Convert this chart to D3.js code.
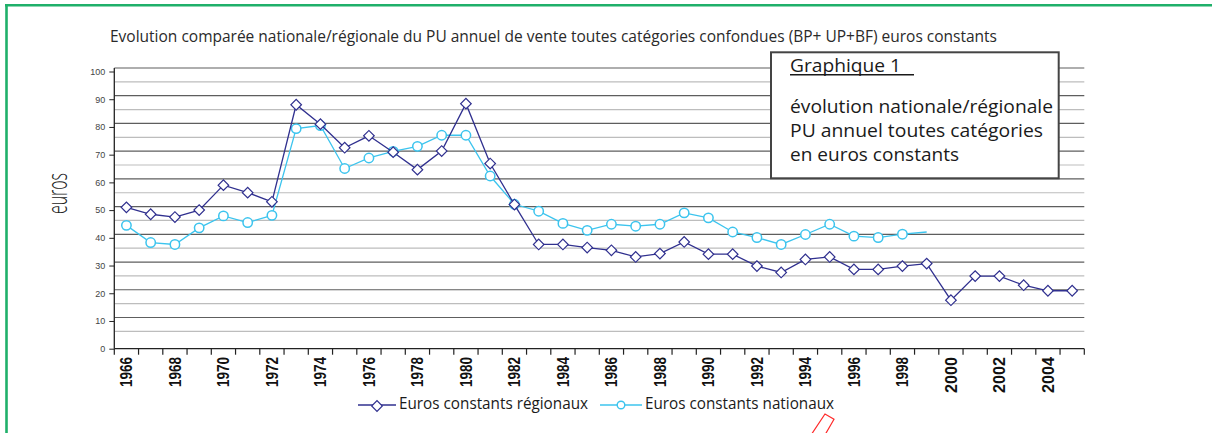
<!DOCTYPE html>
<html>
<head>
<meta charset="utf-8">
<script src="https://cdn.jsdelivr.net/npm/d3@7"></script>
<style>
  body { margin: 0; background: #fff; }
  svg { display: block; }
</style>
</head>
<body>
<div id="container"></div>
<script>
// data
const years = [1966, 1967, 1968, 1969, 1970, 1971, 1972, 1973, 1974, 1975,
  1976, 1977, 1978, 1979, 1980, 1981, 1982, 1983, 1984, 1985,
  1986, 1987, 1988, 1989, 1990, 1991, 1992, 1993, 1994, 1995,
  1996, 1997, 1998, 1999, 2000, 2001, 2002, 2003, 2004, 2005];
const regional = [51, 48.5, 47.5, 50, 59, 56.3, 53, 88, 81, 72.5,
  76.8, 70.9, 64.6, 71.3, 88.4, 66.8, 52, 37.6, 37.6, 36.5,
  35.5, 33.1, 34.3, 38.5, 34.1, 34.1, 29.8, 27.5, 32.2, 33.1,
  28.6, 28.6, 29.8, 30.7, 17.5, 26.2, 26.2, 22.9, 20.9, 20.9];
const national = [44.5, 38.3, 37.6, 43.6, 47.9, 45.5, 48.1, 79.4, 80.5, 65,
  68.8, 71.2, 73, 77, 77, 62.3, 52.1, 49.6, 45.2, 42.7,
  44.9, 44.2, 44.9, 49, 47.2, 42.1, 40.1, 37.6, 41.2, 44.9,
  40.6, 40.1, 41.3, 42.1, null, null, null, null, null, null];
const nationalNoMarker = [1999];
const xTickLabels = [1966, 1968, 1970, 1972, 1974, 1976, 1978, 1980, 1982, 1984,
  1986, 1988, 1990, 1992, 1994, 1996, 1998, 2000, 2002, 2004];
const yTicks = [0, 10, 20, 30, 40, 50, 60, 70, 80, 90, 100];
const yMinor = [5, 15, 25, 35, 45, 55, 65, 75, 85, 95];

const title = 'Evolution comparée nationale/régionale du PU annuel de vente toutes catégories confondues (BP+ UP+BF) euros constants';
const boxTitle = 'Graphique 1';
const boxLines = ['évolution nationale/régionale', 'PU annuel toutes catégories', 'en euros constants'];
const seriesNames = ['Euros constants régionaux', 'Euros constants nationaux'];

const colRegional = '#30308f';
const colNational = '#3cc4ee';
const font = '"Open Sans", "Noto Sans", sans-serif';

const width = 1212, height = 433;
const svg = d3.select('#container').append('svg')
  .attr('width', width)
  .attr('height', height);

// frame
svg.append('rect').attr('width', width).attr('height', height).attr('fill', '#fff');
svg.append('line')
  .attr('x1', 5).attr('x2', width).attr('y1', 5.3).attr('y2', 5.3)
  .attr('stroke', '#1fb06a').attr('stroke-width', 2.6);
svg.append('line')
  .attr('x1', 6.5).attr('x2', 6.5).attr('y1', 4).attr('y2', height)
  .attr('stroke', '#1fb06a').attr('stroke-width', 2.6);

const x = d3.scaleBand().domain(years).range([114.3, 1084.3]);
const y = d3.scaleLinear().domain([0, 100]).range([348.7, 71.5]);
const bw = x.bandwidth();
const cx = (d) => x(d) + bw / 2;
const gridShift = -3.5;

// title
svg.append('text')
  .attr('x', 110).attr('y', 42)
  .attr('font-family', font).attr('font-size', 17)
  .attr('fill', '#2a2a2a')
  .attr('textLength', 887).attr('lengthAdjust', 'spacingAndGlyphs')
  .text(title);

// grid
const grid = svg.append('g');
grid.selectAll('line.minor')
  .data(yMinor)
  .enter()
  .append('line')
  .attr('class', 'minor')
  .attr('x1', x.range()[0]).attr('x2', x.range()[1])
  .attr('y1', (d) => y(d) + gridShift).attr('y2', (d) => y(d) + gridShift)
  .attr('stroke', '#bdbdbd').attr('stroke-width', 1.2);
grid.selectAll('line.major')
  .data(yTicks.filter((d) => d > 0))
  .enter()
  .append('line')
  .attr('class', 'major')
  .attr('x1', x.range()[0]).attr('x2', x.range()[1])
  .attr('y1', (d) => y(d) + gridShift).attr('y2', (d) => y(d) + gridShift)
  .attr('stroke', '#5e5e5e').attr('stroke-width', 1.2);

// y axis
const yAxis = svg.append('g')
  .attr('transform', `translate(${x.range()[0]},0)`)
  .call(d3.axisLeft(y).tickValues(yTicks).tickSize(5).tickSizeOuter(0));
yAxis.select('.domain').remove();
yAxis.selectAll('.tick line').attr('stroke', '#222');
yAxis.selectAll('.tick text')
  .attr('x', -9)
  .attr('font-family', '"Liberation Sans", Arial, sans-serif')
  .attr('font-size', 9)
  .attr('fill', '#444');
svg.append('line')
  .attr('x1', x.range()[0]).attr('x2', x.range()[0])
  .attr('y1', y(100) + gridShift).attr('y2', y(0))
  .attr('stroke', '#222').attr('stroke-width', 1.3);

// x axis
svg.append('line')
  .attr('x1', x.range()[0]).attr('x2', x.range()[1])
  .attr('y1', y(0)).attr('y2', y(0))
  .attr('stroke', '#222').attr('stroke-width', 1.3);
svg.append('g').selectAll('line')
  .data(years.concat(['end']))
  .enter()
  .append('line')
  .attr('x1', (d) => d === 'end' ? x.range()[1] : x(d))
  .attr('x2', (d) => d === 'end' ? x.range()[1] : x(d))
  .attr('y1', y(0)).attr('y2', y(0) + 6)
  .attr('stroke', '#222').attr('stroke-width', 1.2);
svg.append('g').selectAll('text')
  .data(xTickLabels)
  .enter()
  .append('text')
  .attr('transform', (d) => `translate(${cx(d)},357) rotate(-90)`)
  .attr('dy', '0.35em')
  .attr('text-anchor', 'end')
  .attr('font-family', '"Liberation Sans", Arial, sans-serif')
  .attr('font-weight', 'bold')
  .attr('font-size', 17)
  .attr('fill', '#111')
  .attr('textLength', (d) => d >= 2000 ? 36 : 30)
  .attr('lengthAdjust', 'spacingAndGlyphs')
  .text((d) => d);

// y label
svg.append('text')
  .attr('transform', 'translate(67,193.5) rotate(-90)')
  .attr('text-anchor', 'middle')
  .attr('font-family', font)
  .attr('font-weight', 300)
  .attr('font-size', 27)
  .attr('fill', '#222')
  .attr('textLength', 41).attr('lengthAdjust', 'spacingAndGlyphs')
  .text('euros');

// series
const diamond = d3.symbol().type(d3.symbolSquare).size(56);
const lineGen = d3.line()
  .defined((d) => d.v !== null)
  .x((d) => cx(d.year))
  .y((d) => y(d.v));

const regData = years.map((yr, i) => ({ year: yr, v: regional[i] }));
const natData = years.map((yr, i) => ({ year: yr, v: national[i] }));

svg.append('path')
  .datum(natData)
  .attr('d', lineGen)
  .attr('fill', 'none')
  .attr('stroke', colNational)
  .attr('stroke-width', 1.3);
svg.append('g').selectAll('circle')
  .data(natData.filter((d) => d.v !== null && !nationalNoMarker.includes(d.year)))
  .enter()
  .append('circle')
  .attr('cx', (d) => cx(d.year))
  .attr('cy', (d) => y(d.v))
  .attr('r', 4.7)
  .attr('fill', '#fff')
  .attr('stroke', colNational)
  .attr('stroke-width', 1.5);

svg.append('path')
  .datum(regData)
  .attr('d', lineGen)
  .attr('fill', 'none')
  .attr('stroke', colRegional)
  .attr('stroke-width', 1.3);
svg.append('g').selectAll('path')
  .data(regData)
  .enter()
  .append('path')
  .attr('d', diamond)
  .attr('transform', (d) => `translate(${cx(d.year)},${y(d.v)}) rotate(45)`)
  .attr('fill', '#fff')
  .attr('stroke', colRegional)
  .attr('stroke-width', 1.2);

// legend
const legend = svg.append('g');
const legendItems = [
  { name: seriesNames[0], x0: 358, x1: 396, tx: 399, tl: 189, color: colRegional, shape: 'diamond' },
  { name: seriesNames[1], x0: 600, x1: 642, tx: 645, tl: 189, color: colNational, shape: 'circle' }
];
legendItems.forEach((it) => {
  legend.append('line')
    .attr('x1', it.x0).attr('x2', it.x1).attr('y1', 405).attr('y2', 405)
    .attr('stroke', it.color).attr('stroke-width', 1.3);
  const mx = (it.x0 + it.x1) / 2;
  if (it.shape === 'diamond') {
    legend.append('path')
      .attr('d', diamond)
      .attr('transform', `translate(${mx},406) rotate(45)`)
      .attr('fill', '#fff').attr('stroke', it.color).attr('stroke-width', 1.2);
  } else {
    legend.append('circle')
      .attr('cx', mx).attr('cy', 405).attr('r', 3.8)
      .attr('fill', '#fff').attr('stroke', it.color).attr('stroke-width', 1.4);
  }
  legend.append('text')
    .attr('x', it.tx).attr('y', 409)
    .attr('font-family', font).attr('font-size', 16)
    .attr('fill', '#1a1a1a')
    .attr('textLength', it.tl).attr('lengthAdjust', 'spacingAndGlyphs')
    .text(it.name);
});

// annotation box
const box = svg.append('g');
box.append('rect')
  .attr('x', 771).attr('y', 52.3).attr('width', 287.7).attr('height', 126)
  .attr('fill', '#fff').attr('stroke', '#444').attr('stroke-width', 2);
box.append('text')
  .attr('x', 790).attr('y', 71.5)
  .attr('font-family', font).attr('font-size', 18.5)
  .attr('fill', '#1a1a1a')
  .attr('textLength', 111).attr('lengthAdjust', 'spacingAndGlyphs')
  .text(boxTitle);
box.append('line')
  .attr('x1', 790).attr('x2', 914).attr('y1', 74.8).attr('y2', 74.8)
  .attr('stroke', '#1a1a1a').attr('stroke-width', 1.5);
const boxWidths = [263, 253, 169];
box.selectAll('text.line')
  .data(boxLines)
  .enter()
  .append('text')
  .attr('class', 'line')
  .attr('x', 790)
  .attr('y', (d, i) => 112.7 + i * 24)
  .attr('font-family', font).attr('font-size', 18.5)
  .attr('fill', '#1a1a1a')
  .attr('textLength', (d, i) => boxWidths[i]).attr('lengthAdjust', 'spacingAndGlyphs')
  .text((d) => d);

// red mark cut off at the bottom edge
svg.append('path')
  .attr('d', 'M811.7,434 L825,414 L834,419.3 L825.5,434')
  .attr('fill', 'none').attr('stroke', '#ff2a2a').attr('stroke-width', 1.2);
</script>
</body>
</html>
